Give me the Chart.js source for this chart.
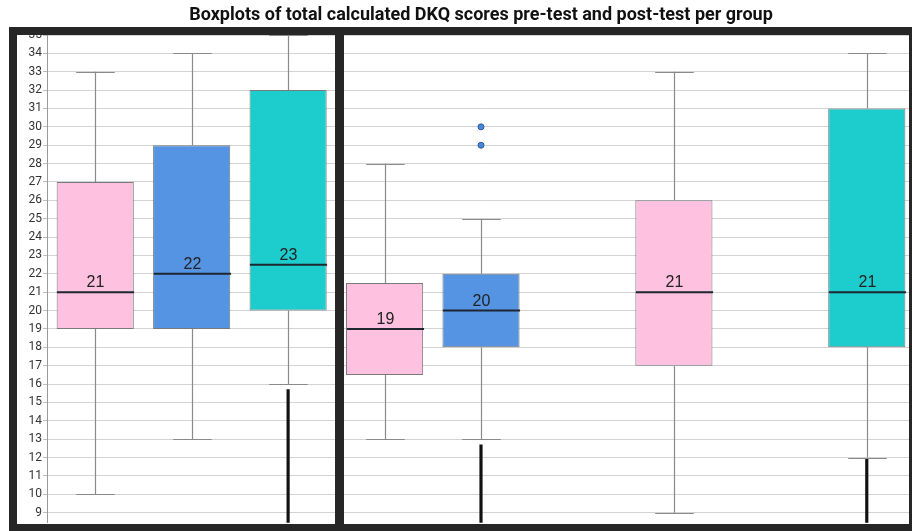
<!DOCTYPE html>
<html>
<head>
<meta charset="utf-8">
<script src="https://cdn.jsdelivr.net/npm/chart.js@4.4.1/dist/chart.umd.min.js"></script>
<style>
  html, body { margin: 0; padding: 0; background: #fff; overflow: hidden; }
  #wrap { position: relative; width: 912px; height: 531px; overflow: hidden; }
  #chart { position: absolute; left: 0; top: 0; }
  .frame { position: absolute; background: #262626; }
</style>
</head>
<body>
<div id="wrap">
  <canvas id="chart" width="920" height="531"></canvas>
  <div class="frame" style="left:9px;top:27px;width:903px;height:8px"></div>
  <div class="frame" style="left:9px;top:27px;width:8px;height:504px"></div>
  <div class="frame" style="left:9px;top:524px;width:903px;height:7px"></div>
  <div class="frame" style="left:909px;top:27px;width:3px;height:504px"></div>
  <div class="frame" style="left:335px;top:27px;width:9px;height:504px"></div>
</div>
<script>
// slots: 3 pre-test boxes (left panel) + 6 post-test slots (right panel)
var groups = ['Pre 1', 'Pre 2', 'Pre 3', 'Post 1', 'Post 2', 'Post 3', 'Post 4', 'Post 5', 'Post 6'];
var whiskerLow  = [10, 13, 16,   13, 13, null,  9, null, 12];
var quart1      = [19, 19, 20, 16.5, 18, null, 17, null, 18];
var medians     = [21, 22, 22.5, 19, 20, null, 21, null, 21];
var quart3      = [27, 29, 32, 21.5, 22, null, 26, null, 31];
var whiskerHigh = [33, 34, 35,   28, 25, null, 33, null, 34];
var medianText  = ['21', '22', '23', '19', '20', null, '21', null, '21'];
var outliers    = [{ x: 'Post 2', y: 29 }, { x: 'Post 2', y: 30 }];
var stubTops    = [null, null, 15.7, null, 12.7, null, null, null, 11.9];
var tickValues  = [9, 10, 11, 12, 13, 14, 15, 16, 17, 18, 19, 20, 21, 22, 23, 24, 25, 26, 27, 28, 29, 30, 31, 32, 33, 34, 35];

var PINK = '#fec1df', BLUE = '#5593e3', TEAL = '#1dcdcd';
var boxColors = [PINK, BLUE, TEAL, PINK, BLUE, null, PINK, null, TEAL];
var yMin = 8.45, yMax = 35;

var boxData = groups.map(function (g, i) {
    return quart1[i] == null ? null : [quart1[i], quart3[i]];
});
var stubData = groups.map(function (g, i) {
    return stubTops[i] == null ? null : [yMin, stubTops[i]];
});

var boxPlotPlugin = {
    id: 'boxPlot',
    afterDatasetsDraw: function (chart) {
        var ctx = chart.ctx;
        var x = chart.scales.x, y = chart.scales.y;
        var meta = chart.getDatasetMeta(0);
        ctx.save();
        for (var i = 0; i < groups.length; i++) {
            if (medians[i] == null) continue;
            var cx = Math.round(x.getPixelForValue(i)) + 0.5;
            var half = meta.data[i].width / 2;
            var capHalf = half / 2;

            ctx.strokeStyle = '#8a8a8a';
            ctx.lineWidth = 1.2;
            ctx.beginPath();
            ctx.moveTo(cx, y.getPixelForValue(whiskerLow[i]));
            ctx.lineTo(cx, y.getPixelForValue(quart1[i]));
            ctx.moveTo(cx, y.getPixelForValue(quart3[i]));
            ctx.lineTo(cx, y.getPixelForValue(whiskerHigh[i]));
            var lo = Math.round(y.getPixelForValue(whiskerLow[i])) + 0.5;
            var hi = Math.round(y.getPixelForValue(whiskerHigh[i])) + 0.5;
            ctx.moveTo(cx - capHalf, lo);
            ctx.lineTo(cx + capHalf, lo);
            ctx.moveTo(cx - capHalf, hi);
            ctx.lineTo(cx + capHalf, hi);
            ctx.stroke();

            var my = y.getPixelForValue(medians[i]);
            ctx.strokeStyle = '#1e2630';
            ctx.lineWidth = 2;
            ctx.beginPath();
            ctx.moveTo(cx - half, my);
            ctx.lineTo(cx + half, my);
            ctx.stroke();

            ctx.fillStyle = '#222';
            ctx.font = '16px "Liberation Sans", Arial, sans-serif';
            ctx.textAlign = 'center';
            ctx.textBaseline = 'alphabetic';
            ctx.fillText(medianText[i], cx, my - 5);
        }
        ctx.restore();
    }
};

new Chart(document.getElementById('chart'), {
    type: 'bar',
    data: {
        labels: groups,
        datasets: [
            {
                label: 'Box',
                data: boxData,
                backgroundColor: boxColors,
                borderColor: '#7a7a7a',
                borderWidth: 1,
                borderSkipped: false,
                barPercentage: 0.8,
                categoryPercentage: 1,
                grouped: false,
                order: 2
            },
            {
                label: 'Stub',
                data: stubData,
                backgroundColor: '#111',
                barThickness: 2.5,
                grouped: false,
                order: 1
            },
            {
                type: 'scatter',
                label: 'Outliers',
                data: outliers,
                pointRadius: 3,
                pointBackgroundColor: '#4a86d8',
                pointBorderColor: '#2c5b9e',
                pointBorderWidth: 1,
                order: 0
            }
        ]
    },
    options: {
        responsive: false,
        animation: false,
        layout: { padding: { left: 17, right: 4, top: 0, bottom: 7 } },
        plugins: {
            legend: { display: false },
            tooltip: { enabled: false },
            title: {
                display: true,
                fullSize: false,
                text: 'Boxplots of total calculated DKQ scores pre-test and post-test per group',
                color: '#111',
                padding: { top: 5, bottom: 8.4 },
                font: { family: 'Roboto', size: 18, weight: 'bold', lineHeight: 1.2 }
            }
        },
        scales: {
            x: {
                type: 'category',
                display: false,
                offset: true
            },
            y: {
                min: yMin,
                max: yMax,
                afterBuildTicks: function (scale) {
                    scale.ticks = tickValues.map(function (v) { return { value: v }; });
                },
                afterFit: function (scale) { scale.width = 30; },
                grid: { color: '#d3d3d3', lineWidth: 1, tickLength: 4, tickColor: '#bdbdbd' },
                border: { color: '#9a9a9a' },
                ticks: {
                    color: '#333',
                    padding: 1,
                    font: { family: 'Roboto', size: 12 }
                }
            }
        }
    },
    plugins: [boxPlotPlugin]
});
</script>
</body>
</html>
